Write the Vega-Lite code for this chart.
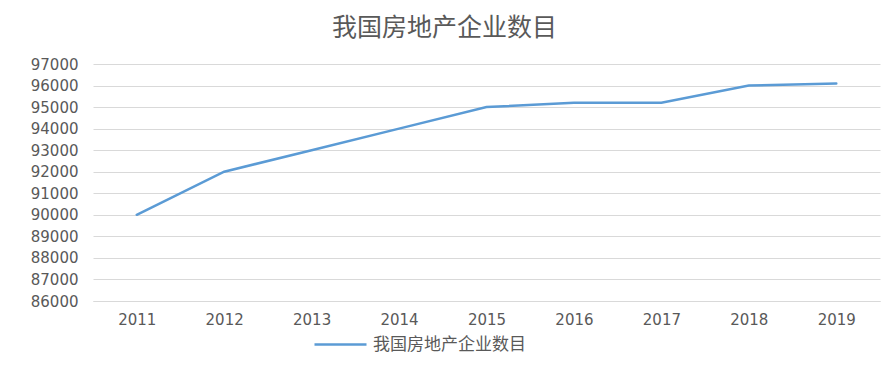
{
  "$schema": "https://vega.github.io/schema/vega-lite/v6.json",
  "width": 787,
  "height": 237,
  "autosize": {"type": "none"},
  "padding": {"left": 93, "top": 64, "right": 15, "bottom": 72},
  "background": "white",
  "title": {
    "text": "我国房地产企业数目",
    "fontSize": 25,
    "font": "Noto Sans CJK SC",
    "fontWeight": "normal",
    "color": "#595959",
    "anchor": "middle",
    "dx": -42,
    "offset": 16
  },
  "data": {
    "values": [
      {"year": "2011", "value": 90000, "series": "我国房地产企业数目"},
      {"year": "2012", "value": 92000, "series": "我国房地产企业数目"},
      {"year": "2013", "value": 93000, "series": "我国房地产企业数目"},
      {"year": "2014", "value": 94000, "series": "我国房地产企业数目"},
      {"year": "2015", "value": 95000, "series": "我国房地产企业数目"},
      {"year": "2016", "value": 95200, "series": "我国房地产企业数目"},
      {"year": "2017", "value": 95200, "series": "我国房地产企业数目"},
      {"year": "2018", "value": 96000, "series": "我国房地产企业数目"},
      {"year": "2019", "value": 96100, "series": "我国房地产企业数目"}
    ]
  },
  "mark": {"type": "line", "strokeWidth": 2.5, "strokeCap": "round"},
  "encoding": {
    "x": {
      "field": "year",
      "type": "ordinal",
      "scale": {"type": "point", "padding": 0.5},
      "axis": {
        "title": null,
        "labelAngle": 0,
        "labelFont": "DejaVu Sans",
        "labelFontSize": 15,
        "labelColor": "#595959",
        "labelPadding": 11,
        "ticks": false,
        "domain": true,
        "domainColor": "#D9D9D9",
        "grid": false
      }
    },
    "y": {
      "field": "value",
      "type": "quantitative",
      "scale": {"domain": [86000, 97000], "nice": false, "zero": false},
      "axis": {
        "title": null,
        "values": [86000, 87000, 88000, 89000, 90000, 91000, 92000, 93000, 94000, 95000, 96000, 97000],
        "format": "d",
        "labelFont": "DejaVu Sans",
        "labelFontSize": 15,
        "labelColor": "#595959",
        "labelPadding": 15,
        "ticks": false,
        "domain": false,
        "grid": true,
        "gridColor": "#D9D9D9",
        "gridWidth": 1
      }
    },
    "color": {
      "field": "series",
      "type": "nominal",
      "scale": {"range": ["#5B9BD5"]},
      "legend": {
        "title": null,
        "orient": "none",
        "legendX": 220,
        "legendY": 253,
        "padding": 0,
        "symbolType": "stroke",
        "symbolSize": 2704,
        "symbolStrokeWidth": 2.5,
        "labelFont": "Noto Sans CJK SC",
        "labelFontSize": 17,
        "labelColor": "#595959",
        "labelOffset": 5
      }
    }
  },
  "config": {"view": {"stroke": null}}
}
